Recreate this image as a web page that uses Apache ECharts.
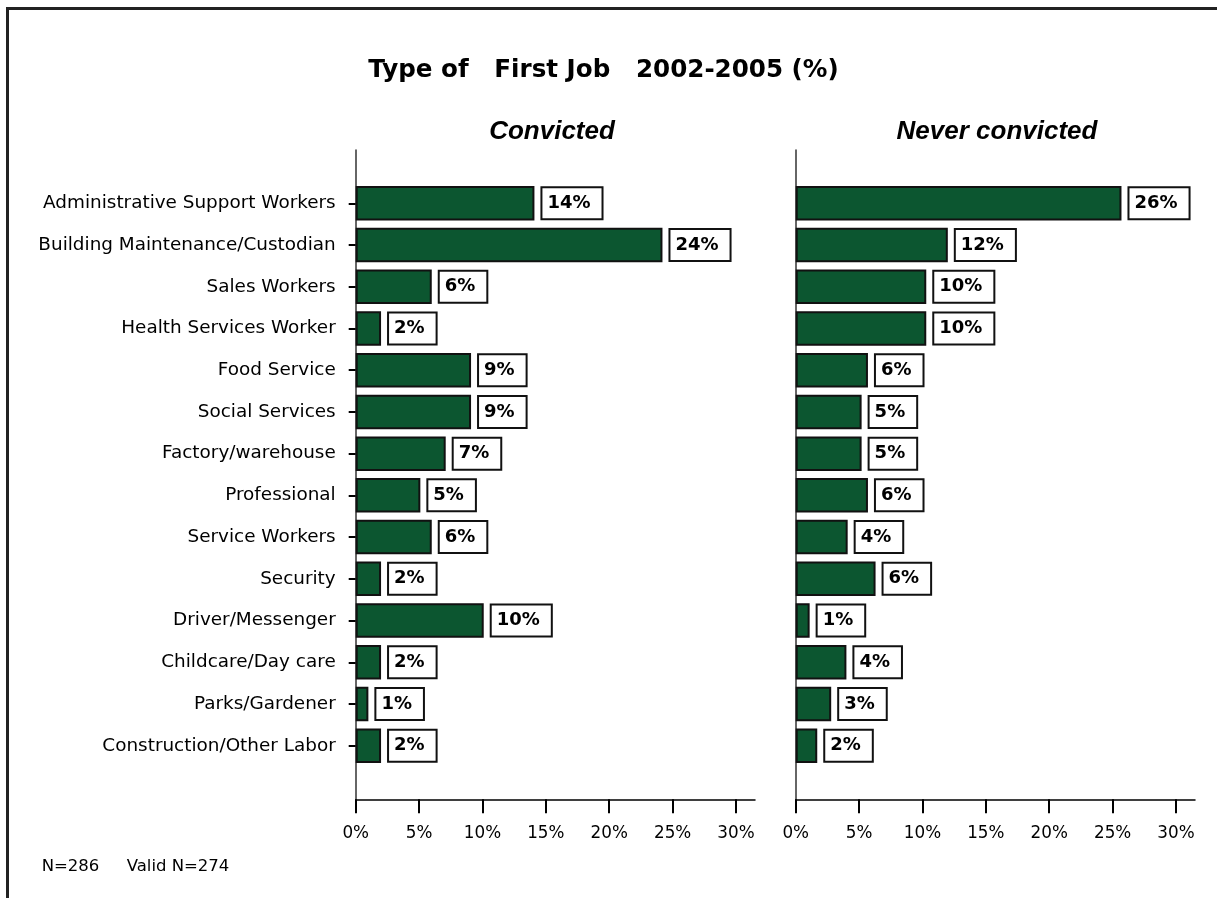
<!DOCTYPE html>
<html>
<head>
<meta charset="utf-8">
<title>Type of First Job 2002-2005 (%)</title>
<script src="https://cdn.jsdelivr.net/npm/echarts@6/dist/echarts.min.js"></script>
<style>
  html, body { margin: 0; padding: 0; background: #fff; overflow: hidden; }
  #wrap { position: relative; width: 1217px; height: 898px; }
  #frame {
    position: absolute; left: 6px; top: 7px; width: 1300px; height: 1000px;
    border-left: 3px solid #222; border-top: 3px solid #222; box-sizing: border-box;
  }
  #chart { position: absolute; left: 0; top: 0; width: 1217px; height: 898px; }
</style>
</head>
<body>
<div id="wrap">
  <div id="frame"></div>
  <div id="chart"></div>
</div>
<script>
// Job categories, top to bottom
const categories = [
  'Administrative Support Workers',
  'Building Maintenance/Custodian',
  'Sales Workers',
  'Health Services Worker',
  'Food Service',
  'Social Services',
  'Factory/warehouse',
  'Professional',
  'Service Workers',
  'Security',
  'Driver/Messenger',
  'Childcare/Day care',
  'Parks/Gardener',
  'Construction/Other Labor'
];

// Share of first jobs (%) per group
const convicted      = [14.1, 24.2, 6.0, 2.0, 9.1, 9.1, 7.1, 5.1, 6.0, 2.0, 10.1, 2.0, 1.0, 2.0];
const neverConvicted = [25.7, 12.0, 10.3, 10.3, 5.7, 5.2, 5.2, 5.7, 4.1, 6.3, 1.1, 4.0, 2.8, 1.7];

// Percentage axis ticks
const tickValues = [0, 5, 10, 15, 20, 25, 30];
const axisMax = 31.5;

const panelTitles = ['Convicted', 'Never convicted'];
const chartTitle = 'Type of   First Job   2002-2005 (%)';
const footnotes = ['N=286', 'Valid N=274'];

const FONT = 'DejaVu Sans';
const BAR_FILL = '#0c5630';

const chart = echarts.init(document.getElementById('chart'), null, { renderer: 'canvas' });

// Each panel: an inner grid for the bars and an outer grid for the axis frame
const panels = [
  { left: 355.7, right: 462 },
  { left: 795.7, right: 22 }
];
const innerTop = 182.4, innerBottom = 131.4;
const outerTop = 150, outerBottom = 98.7;

const grid = [];
const xAxis = [];
const yAxis = [];
panels.forEach((p, i) => {
  grid.push({ left: p.left, right: p.right, top: innerTop, bottom: innerBottom, containLabel: false });
  grid.push({ left: p.left, right: p.right, top: outerTop, bottom: outerBottom, containLabel: false });

  // inner (bars)
  xAxis.push({ type: 'value', gridIndex: 2 * i, min: 0, max: axisMax, show: false });
  yAxis.push({
    type: 'category', gridIndex: 2 * i, data: categories, inverse: true,
    axisLine: { show: false },
    axisTick: { show: i === 0, alignWithLabel: true, length: 7, lineStyle: { color: '#000', width: 2 } },
    axisLabel: { show: i === 0, margin: 20, fontFamily: FONT, fontSize: 18.4, color: '#000', padding: [3, 0, 0, 0] }
  });

  // outer (axis lines, ticks and tick labels)
  xAxis.push({
    type: 'value', gridIndex: 2 * i + 1, min: 0, max: axisMax,
    splitLine: { show: false },
    axisLine: { show: true, onZero: false, lineStyle: { color: '#000', width: 1.5 } },
    axisTick: { show: true, customValues: tickValues, length: 14, lineStyle: { color: '#000', width: 2 } },
    axisLabel: {
      customValues: tickValues, margin: 26, fontFamily: FONT, fontSize: 16.8, color: '#000',
      formatter: v => v + '%'
    }
  });
  yAxis.push({
    type: 'value', gridIndex: 2 * i + 1, min: 0, max: 1,
    splitLine: { show: false },
    axisTick: { show: false },
    axisLabel: { show: false },
    axisLine: { show: true, onZero: false, lineStyle: { color: '#333', width: 1.5 } }
  });
});

function barSeries(values, idx) {
  return {
    type: 'bar',
    xAxisIndex: 2 * idx,
    yAxisIndex: 2 * idx,
    data: values,
    barWidth: 34.5,
    itemStyle: { color: BAR_FILL, borderColor: '#111', borderWidth: 2 },
    label: {
      show: true,
      position: 'right',
      distance: 8,
      formatter: p => Math.round(p.value) + '%',
      fontFamily: FONT,
      fontWeight: 'bold',
      fontSize: 18,
      lineHeight: 19,
      color: '#000',
      backgroundColor: '#fff',
      borderColor: '#111',
      borderWidth: 2,
      padding: [6, 11, 5, 5]
    },
    emphasis: { disabled: true },
    animation: false
  };
}

const subTitleStyle = { fontFamily: 'Liberation Sans', fontStyle: 'italic', fontWeight: 'bold', fontSize: 26, color: '#000' };
const footStyle = { fontFamily: FONT, fontWeight: 'normal', fontSize: 16.5, color: '#000' };

const option = {
  animation: false,
  backgroundColor: 'transparent',
  title: [
    {
      text: chartTitle, left: 603.5, top: 58, textAlign: 'center', padding: 0,
      textStyle: { fontFamily: FONT, fontWeight: 'bold', fontSize: 24.6, color: '#000' }
    },
    { text: panelTitles[0], left: 552, top: 119, textAlign: 'center', padding: 0, textStyle: subTitleStyle },
    { text: panelTitles[1], left: 997, top: 119, textAlign: 'center', padding: 0, textStyle: subTitleStyle },
    { text: footnotes[0], left: 41.7, top: 858, padding: 0, textStyle: footStyle },
    { text: footnotes[1], left: 126.7, top: 858, padding: 0, textStyle: footStyle }
  ],
  grid,
  xAxis,
  yAxis,
  series: [barSeries(convicted, 0), barSeries(neverConvicted, 1)]
};

chart.setOption(option);
</script>
</body>
</html>
